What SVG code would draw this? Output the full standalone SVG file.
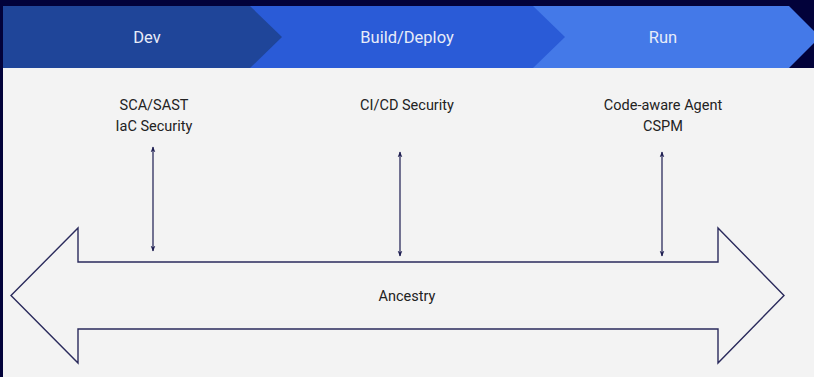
<svg xmlns="http://www.w3.org/2000/svg" width="814" height="377" viewBox="0 0 814 377">
<style>
.band{font-family:Roboto,"Liberation Sans",sans-serif;font-size:16.5px;fill:#e8ecf8;text-anchor:middle;dominant-baseline:central}
.lbl{font-family:Roboto,"Liberation Sans",sans-serif;font-size:14.5px;fill:#222;text-anchor:middle}
.conn{stroke:#1c1c50;stroke-width:1.2;fill:none;marker-start:url(#ah);marker-end:url(#ah)}
</style>
<defs>
<marker id="ah" viewBox="0 0 10 10" refX="9" refY="5" markerWidth="6" markerHeight="6" orient="auto-start-reverse" markerUnits="userSpaceOnUse">
<path d="M0,1 L10,5 L0,9 L3,5 Z" fill="#1c1c50"/>
</marker>
</defs>
<rect x="0" y="0" width="814" height="377" fill="#02023a"/>
<rect x="3" y="68" width="811" height="309" fill="#f3f3f3"/>
<g id="run">
<polygon points="533,6 789,6 820,37 789,68 533,68" fill="#4479e8"/>
<text class="band" x="663" y="37">Run</text>
</g>
<g id="build">
<polygon points="250,6 533,6 565,37 533,68 250,68" fill="#2a5bd7"/>
<text class="band" x="407" y="37">Build/Deploy</text>
</g>
<g id="dev">
<polygon points="3,6 250,6 282,37 250,68 3,68" fill="#1f4599"/>
<text class="band" x="147" y="37">Dev</text>
</g>
<g id="dev-tools">
<text class="lbl" x="154" y="110">SCA/SAST</text>
<text class="lbl" x="154" y="131">IaC Security</text>
</g>
<g id="build-tools">
<text class="lbl" x="407" y="110">CI/CD Security</text>
</g>
<g id="run-tools">
<text class="lbl" x="663" y="110">Code-aware Agent</text>
<text class="lbl" x="663" y="131">CSPM</text>
</g>
<g id="ancestry">
<polygon points="11,295.5 78,228 78,262 718,262 718,228 784,295.5 718,363 718,329 78,329 78,363" fill="none" stroke="#2a2a5c" stroke-width="1.4"/>
<text class="lbl" x="407" y="301">Ancestry</text>
</g>
<g id="connectors">
<line class="conn" x1="153" y1="147" x2="153" y2="251"/>
<line class="conn" x1="400" y1="152" x2="400" y2="256"/>
<line class="conn" x1="662" y1="152" x2="662" y2="256"/>
</g>
</svg>
